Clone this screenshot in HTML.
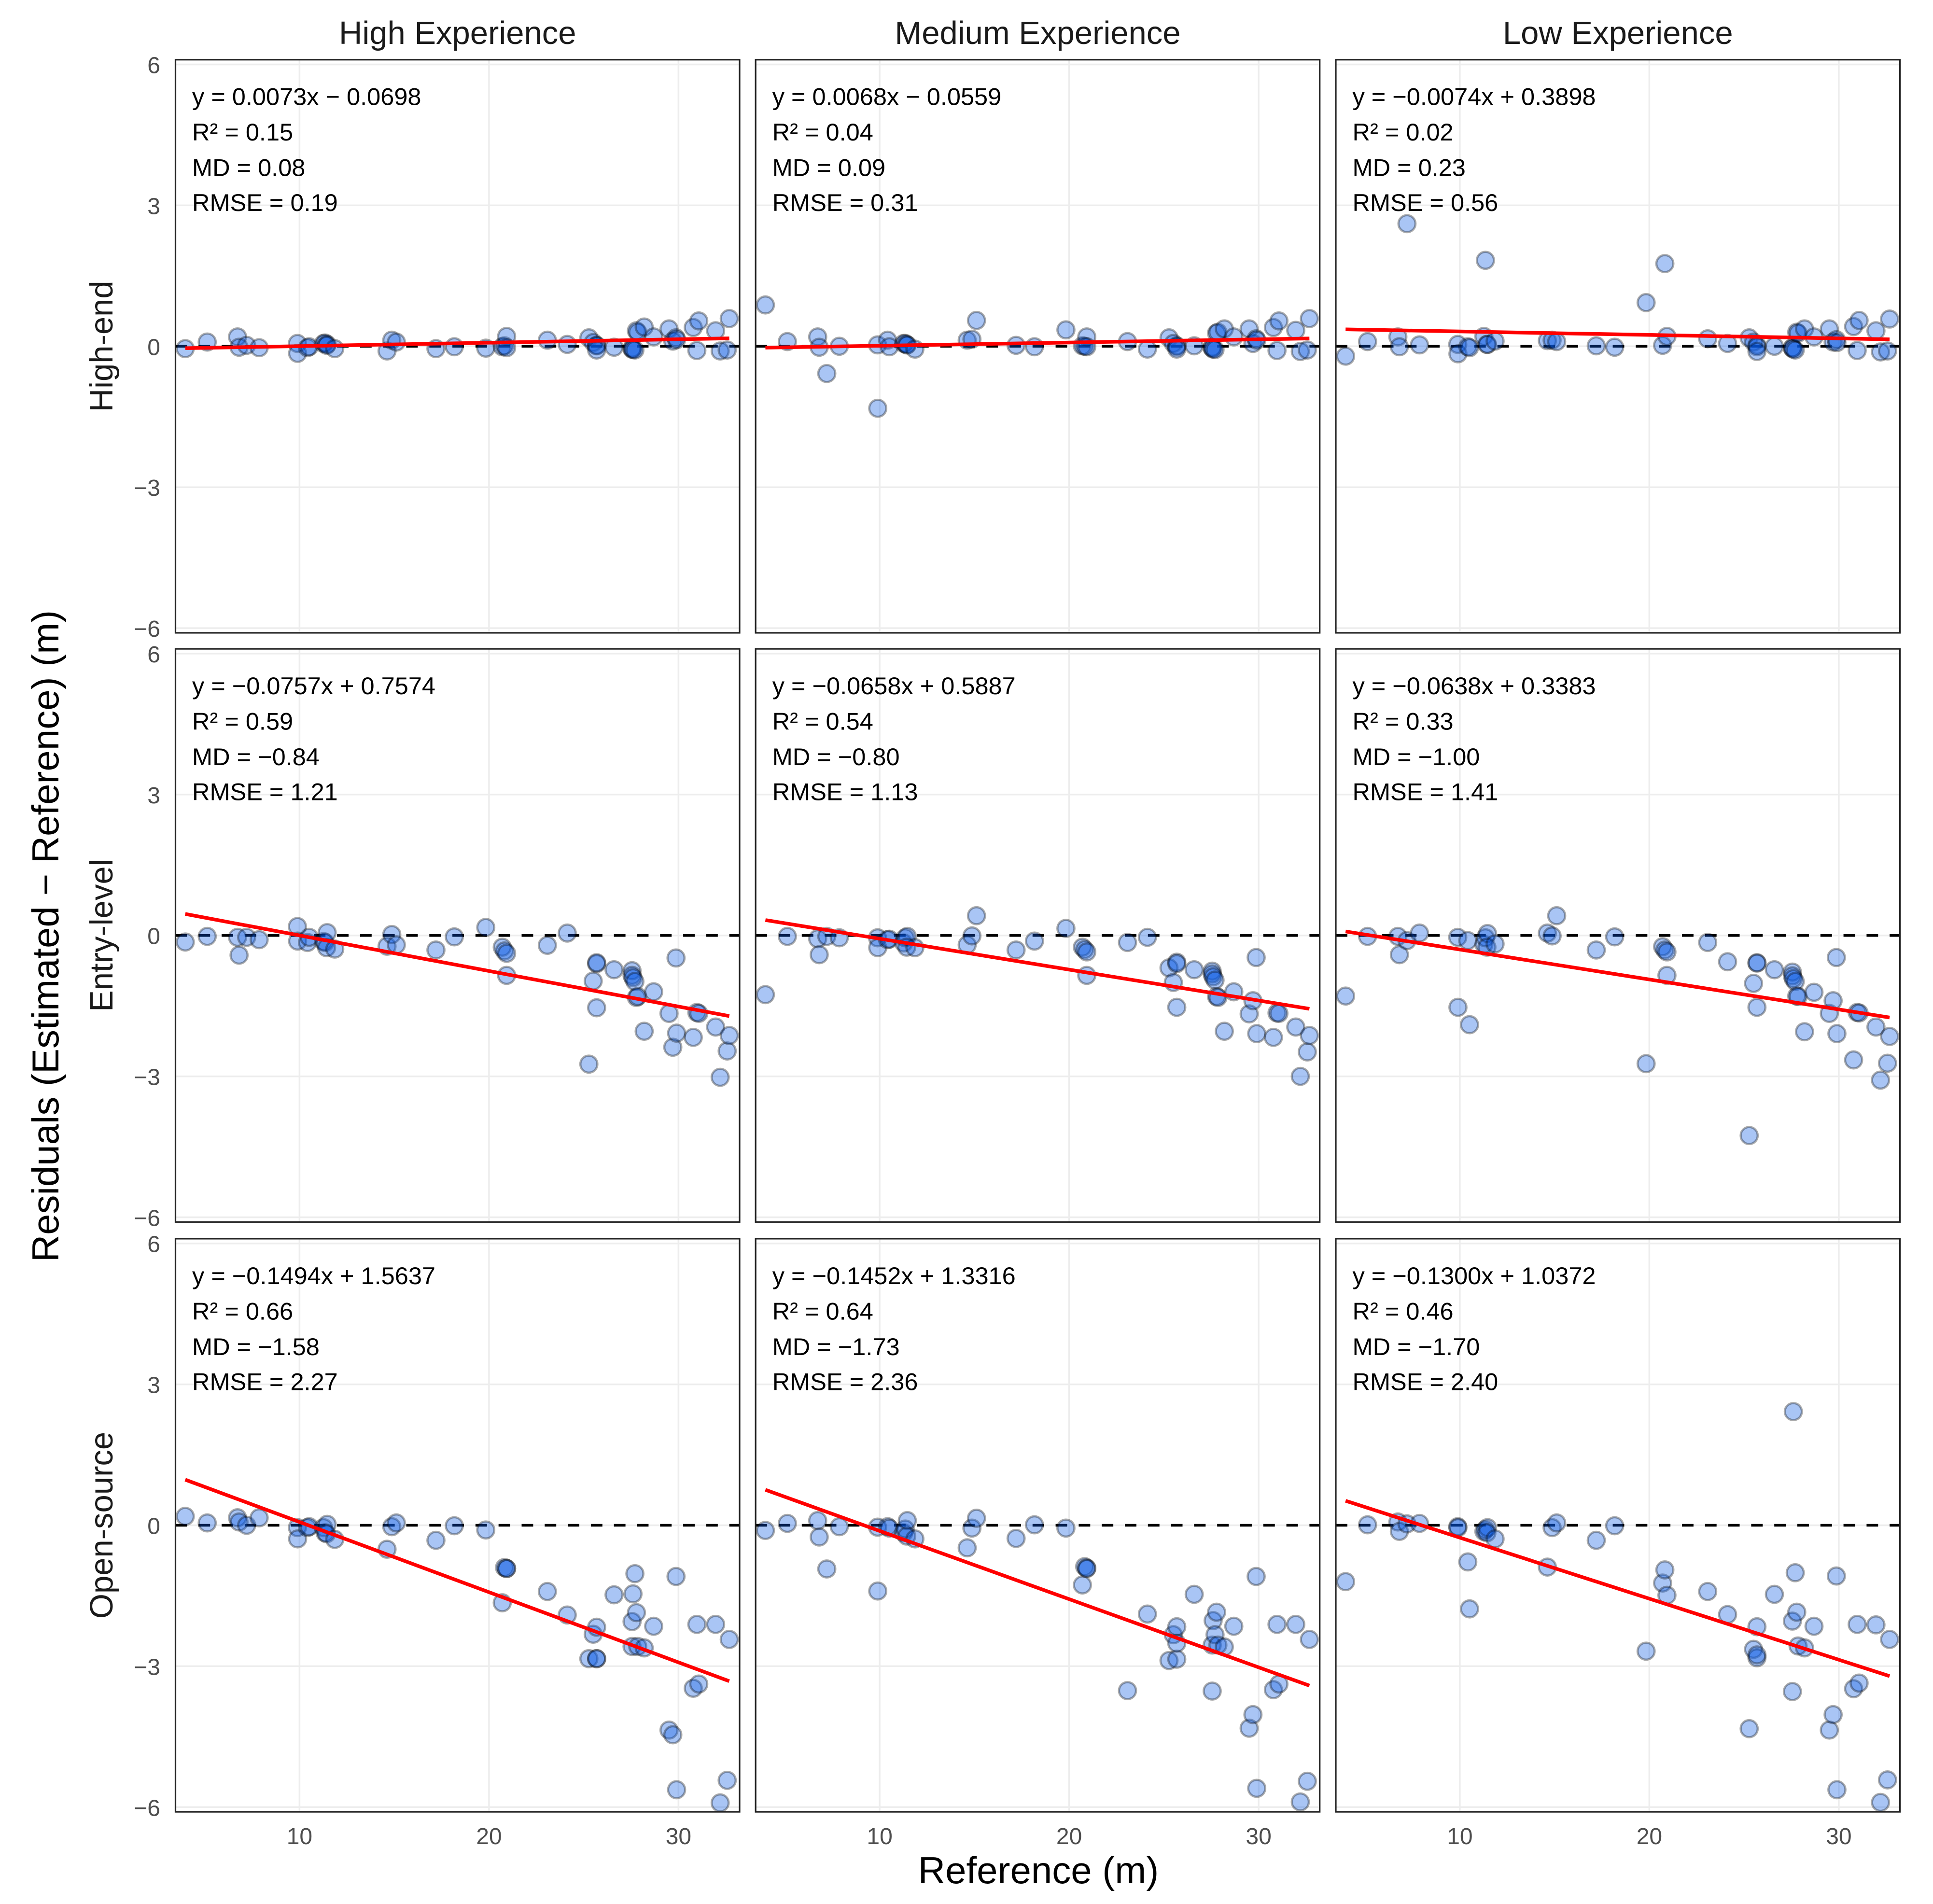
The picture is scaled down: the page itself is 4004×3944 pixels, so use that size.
<!DOCTYPE html>
<html lang="en">
<head>
<meta charset="utf-8">
<title>Residuals vs Reference by Experience and Device</title>
<style>
html,body{margin:0;padding:0;background:#fff;}
svg{display:block;font-family:"Liberation Sans",Arial,sans-serif;}
</style>
</head>
<body>
<svg id="chart" xmlns="http://www.w3.org/2000/svg" width="4004" height="3944" viewBox="0 0 4004 3944">
<rect x="0" y="0" width="4004" height="3944" fill="#ffffff"/>
<text transform="translate(121 1939) rotate(-90)" text-anchor="middle" font-size="78" fill="#000">Residuals (Estimated − Reference) (m)</text>
<text x="2151" y="3901" text-anchor="middle" font-size="78" fill="#000">Reference (m)</text>
</svg>
<script>
const columnTitles = ["High Experience", "Medium Experience", "Low Experience"];
const rowTitles = ["High-end", "Entry-level", "Open-source"];
const xTickValues = [10, 20, 30];
const xTickLabels = ["10", "20", "30"];
const yTickValues = [-6, -3, 0, 3, 6];
const yTickLabels = ["−6", "−3", "0", "3", "6"];

const referenceValues = [3.97,5.13,6.73,6.81,7.21,7.87,9.89,9.90,10.42,10.51,11.27,11.35,11.46,11.43,11.86,14.62,14.87,15.11,17.2,18.17,19.83,20.70,20.82,20.93,20.93,23.08,24.13,25.27,25.5,25.68,25.68,25.68,26.6,27.55,27.55,27.6,27.7,27.78,27.85,28.19,28.69,29.5,29.7,29.87,29.9,30.78,30.97,31.07,31.96,32.2,32.57,32.68];

const residualsHighEndHigh = [-0.05,0.09,0.2,-0.02,0.02,-0.03,0.06,-0.15,-0.03,-0.01,0.06,0.07,0.04,0.02,-0.05,-0.1,0.13,0.09,-0.05,-0.01,-0.04,-0.01,0.01,0.21,-0.03,0.13,0.04,0.18,0.08,0.02,0.01,-0.08,-0.02,-0.04,-0.06,-0.07,-0.08,0.33,0.3,0.41,0.2,0.37,0.11,0.18,0.14,0.4,-0.09,0.54,0.33,-0.1,-0.08,0.59];
const residualsHighEndMedium = [0.88,0.1,0.2,-0.02,-0.58,0,0.03,-1.32,0.13,-0.01,0.06,0.06,0.03,0.03,-0.06,0.13,0.15,0.55,0.02,-0.01,0.35,0.01,0,0.2,-0.01,0.1,-0.06,0.18,0.06,0.01,-0.01,-0.06,0.01,-0.02,-0.04,-0.06,-0.07,0.28,0.3,0.37,0.2,0.37,0.06,0.16,0.13,0.4,-0.09,0.54,0.34,-0.11,-0.08,0.59];
const residualsHighEndLow = [-0.21,0.1,0.2,-0.01,2.61,0.03,0.04,-0.16,-0.01,-0.03,0.21,1.83,0.04,0.04,0.11,0.12,0.13,0.1,0.01,-0.02,0.93,0.02,1.76,0.21,null,0.16,0.06,0.18,0.09,0.02,-0.01,-0.11,0,-0.03,-0.04,-0.06,-0.08,0.3,0.28,0.37,0.2,0.37,0.09,0.14,0.08,0.42,-0.09,0.55,0.33,-0.12,-0.1,0.58];
const residualsEntryHigh = [-0.14,-0.02,-0.04,-0.42,-0.04,-0.09,0.19,-0.12,-0.15,-0.04,-0.13,-0.15,0.06,-0.26,-0.29,-0.23,0.02,-0.2,-0.31,-0.03,0.17,-0.25,-0.33,-0.38,-0.85,-0.21,0.05,-2.74,-0.97,-0.6,-0.58,-1.54,-0.73,-0.75,-0.85,-0.9,-0.98,-1.32,-1.3,-2.04,-1.2,-1.66,-2.38,-0.48,-2.08,-2.17,-1.64,-1.66,-1.95,-3.02,-2.46,-2.13];
const residualsEntryMedium = [-1.26,-0.02,-0.07,-0.41,-0.02,-0.05,-0.05,-0.26,-0.09,-0.08,-0.16,-0.05,-0.02,-0.25,-0.26,-0.2,-0.01,0.42,-0.31,-0.12,0.15,-0.25,-0.3,-0.35,-0.85,-0.15,-0.04,-0.69,-1.0,-0.57,-0.6,-1.53,-0.73,-0.76,-0.82,-0.88,-0.95,-1.3,-1.32,-2.04,-1.2,-1.67,-1.39,-0.47,-2.09,-2.17,-1.65,-1.66,-1.95,-3.0,-2.48,-2.13];
const residualsEntryLow = [-1.29,-0.02,-0.02,-0.41,-0.11,0.05,-0.04,-1.53,-0.11,-1.9,-0.19,-0.05,0.04,-0.25,-0.18,0.05,-0.01,0.42,-0.31,-0.03,-2.73,-0.24,-0.31,-0.35,-0.85,-0.15,-0.56,-4.26,-1.02,-0.58,-0.59,-1.53,-0.73,-0.78,-0.86,-0.92,-0.98,-1.29,-1.3,-2.05,-1.21,-1.66,-1.39,-0.47,-2.09,-2.65,-1.64,-1.65,-1.95,-3.08,-2.72,-2.15];
const residualsOpenHigh = [0.19,0.05,0.16,0.07,0,0.16,-0.05,-0.29,-0.05,-0.03,-0.05,-0.16,0.02,-0.18,-0.3,-0.51,-0.03,0.05,-0.32,-0.01,-0.1,-1.65,-0.9,-0.92,-0.92,-1.41,-1.91,-2.84,-2.32,-2.17,-2.84,-2.84,-1.48,-2.58,-2.05,-1.46,-1.03,-1.86,-2.58,-2.61,-2.15,-4.36,-4.46,-1.09,-5.63,-3.47,-2.11,-3.38,-2.11,-5.91,-5.43,-2.43];
const residualsOpenMedium = [-0.11,0.04,0.1,-0.25,-0.93,-0.03,-0.04,-1.4,-0.03,-0.06,-0.16,-0.08,0.1,-0.23,-0.29,-0.48,-0.06,0.15,-0.28,0.01,-0.06,-1.27,-0.88,-0.91,-0.92,-3.52,-1.89,-2.88,-2.33,-2.16,-2.85,-2.51,-1.47,-2.55,-3.53,-2.03,-2.33,-1.85,-2.55,-2.59,-2.15,-4.32,-4.03,-1.09,-5.6,-3.5,-2.11,-3.38,-2.11,-5.89,-5.45,-2.43];
const residualsOpenLow = [-1.2,0.01,0.07,-0.13,0.03,0.04,-0.03,-0.05,-0.78,-1.78,-0.13,-0.09,-0.05,-0.16,-0.29,-0.89,-0.05,0.05,-0.32,-0.01,-2.68,-1.23,-0.95,-1.49,null,-1.41,-1.9,-4.33,-2.64,-2.16,-2.82,-2.76,-1.47,-2.04,-3.54,2.42,-1.01,-1.85,-2.57,-2.61,-2.15,-4.36,-4.03,-1.08,-5.63,-3.48,-2.11,-3.36,-2.12,-5.9,-5.42,-2.43];

const trendSlopes = [0.0073, 0.0068, -0.0074, -0.0757, -0.0658, -0.0638, -0.1494, -0.1452, -0.1300];
const trendIntercepts = [-0.0698, -0.0559, 0.3898, 0.7574, 0.5887, 0.3383, 1.5637, 1.3316, 1.0372];

const equationLabels = ["y = 0.0073x − 0.0698","y = 0.0068x − 0.0559","y = −0.0074x + 0.3898","y = −0.0757x + 0.7574","y = −0.0658x + 0.5887","y = −0.0638x + 0.3383","y = −0.1494x + 1.5637","y = −0.1452x + 1.3316","y = −0.1300x + 1.0372"];
const r2Labels = ["R² = 0.15","R² = 0.04","R² = 0.02","R² = 0.59","R² = 0.54","R² = 0.33","R² = 0.66","R² = 0.64","R² = 0.46"];
const mdLabels = ["MD = 0.08","MD = 0.09","MD = 0.23","MD = −0.84","MD = −0.80","MD = −1.00","MD = −1.58","MD = −1.73","MD = −1.70"];
const rmseLabels = ["RMSE = 0.19","RMSE = 0.31","RMSE = 0.56","RMSE = 1.21","RMSE = 1.13","RMSE = 1.41","RMSE = 2.27","RMSE = 2.36","RMSE = 2.40"];

const panelResiduals = [
  residualsHighEndHigh, residualsHighEndMedium, residualsHighEndLow,
  residualsEntryHigh, residualsEntryMedium, residualsEntryLow,
  residualsOpenHigh, residualsOpenMedium, residualsOpenLow
];

const NS = "http://www.w3.org/2000/svg";
const svg = document.getElementById("chart");
const panelLefts = [363.5, 1565.2, 2767];
const panelWidth = 1168.5;
const panelTops = [123.7, 1344.1, 2565.9];
const panelHeight = 1187.2;
const xUnit = 39.25;
const yUnit = 97.3;

function make(tag, attrs, parent) {
  const el = document.createElementNS(NS, tag);
  for (const k in attrs) el.setAttribute(k, attrs[k]);
  parent.appendChild(el);
  return el;
}
function xScale(col, v) { return panelLefts[col] + 256.9 + (v - 10) * xUnit; }
function yScale(row, v) { return panelTops[row] + panelHeight / 2 - v * yUnit; }

const xMin = Math.min.apply(null, referenceValues);
const xMax = Math.max.apply(null, referenceValues);

columnTitles.forEach(function (title, c) {
  const t = make("text", {x: panelLefts[c] + panelWidth / 2, y: 91, "text-anchor": "middle", "font-size": 67, fill: "#1a1a1a"}, svg);
  
  
  t.textContent = title;
});

rowTitles.forEach(function (title, r) {
  const cy = panelTops[r] + panelHeight / 2;
  const t = make("text", {transform: "translate(233 " + cy + ") rotate(-90)", "text-anchor": "middle", "font-size": 67, fill: "#1a1a1a"}, svg);
  
  
  t.textContent = title;
  yTickValues.forEach(function (v, i) {
    const lab = make("text", {x: 332, y: yScale(r, v) + 18, "text-anchor": "end", "font-size": 48, fill: "#4d4d4d"}, svg);
    
    
    lab.textContent = yTickLabels[i];
  });
});

xTickValues.forEach(function (v, i) {
  columnTitles.forEach(function (_, c) {
    const lab = make("text", {x: xScale(c, v), y: 3820, "text-anchor": "middle", "font-size": 48, fill: "#4d4d4d"}, svg);
    
    
    lab.textContent = xTickLabels[i];
  });
});

rowTitles.forEach(function (_, r) {
  columnTitles.forEach(function (_, c) {
    const idx = r * 3 + c;
    const left = panelLefts[c], top = panelTops[r];
    const g = make("g", {}, svg);
    
    

    yTickValues.forEach(function (v) {
      const gl = make("line", {x1: left, x2: left + panelWidth, y1: yScale(r, v), y2: yScale(r, v), stroke: "#ededed", "stroke-width": 3.5}, g);
      
      
    });
    xTickValues.forEach(function (v) {
      const gl = make("line", {x1: xScale(c, v), x2: xScale(c, v), y1: top, y2: top + panelHeight, stroke: "#ededed", "stroke-width": 3.5}, g);
      
      
    });

    const zero = make("line", {x1: left, x2: left + panelWidth, y1: yScale(r, 0), y2: yScale(r, 0), stroke: "#000", "stroke-width": 5.5, "stroke-dasharray": "23.9 23.9"}, g);
    
    

    panelResiduals[idx].forEach(function (res, i) {
      if (res === null) return;
      const p = make("circle", {cx: xScale(c, referenceValues[i]), cy: yScale(r, res), r: 17.6, fill: "rgb(10,90,225)", "fill-opacity": 0.35, stroke: "#000", "stroke-opacity": 0.33, "stroke-width": 4.6}, g);
      
      
    });

    const m = trendSlopes[idx], b = trendIntercepts[idx];
    const trend = make("line", {x1: xScale(c, xMin), x2: xScale(c, xMax), y1: yScale(r, m * xMin + b), y2: yScale(r, m * xMax + b), stroke: "#ff0000", "stroke-width": 7.5}, g);
    
    

    const rows = [equationLabels[idx], r2Labels[idx], mdLabels[idx], rmseLabels[idx]];
    const offsets = [94, 167.5, 241, 313.5];
    rows.forEach(function (txt, k) {
      const t = make("text", {x: left + 34.5, y: top + offsets[k], "font-size": 50.5, fill: "#000"}, g);
      
      
      t.textContent = txt;
    });

    const border = make("rect", {x: left, y: top, width: panelWidth, height: panelHeight, fill: "none", stroke: "#222", "stroke-width": 3.2}, g);
    
    
  });
});
</script>
</body>
</html>
